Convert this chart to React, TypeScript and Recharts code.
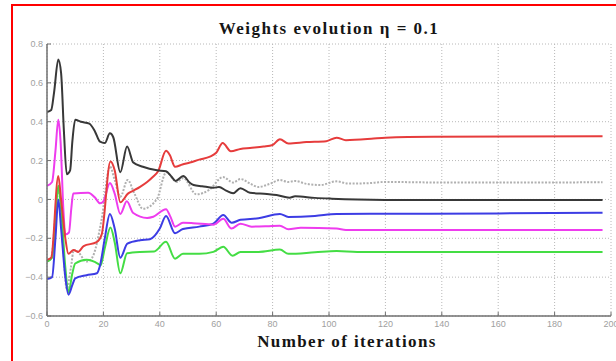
import React from "react";
import { LineChart, Line, XAxis, YAxis, CartesianGrid } from "recharts";

type Pt = [number, number];

const xTicks = [0, 20, 40, 60, 80, 100, 120, 140, 160, 180, 200];
const yTicks = [-0.6, -0.4, -0.2, 0, 0.2, 0.4, 0.6, 0.8];
const titleText = "Weights evolution \u03b7 = 0.1";
const xLabelText = "Number of iterations";

const blackSeries: Pt[] = [
  [0, 0.45], [1.5, 0.46], [2.5, 0.55], [4, 0.72], [5, 0.65], [6, 0.35], [7, 0.13], [8.2, 0.15],
  [9, 0.3], [10, 0.41], [12, 0.4], [15, 0.39], [17, 0.35], [18.8, 0.297], [20.5, 0.29], [22.3, 0.34],
  [23.5, 0.32], [26, 0.14], [28.4, 0.272], [30.6, 0.19], [34, 0.168], [39, 0.15], [42.2, 0.145],
  [44, 0.12], [45.6, 0.095], [48.3, 0.12], [50.7, 0.085], [52, 0.074], [55, 0.068], [59, 0.06],
  [61, 0.064], [63.5, 0.045], [66, 0.032], [68.6, 0.058], [72, 0.034], [78, 0.028], [81.4, 0.023],
  [86, 0.009], [88, 0.016], [95, 0.008], [101, 0.004], [110, 0.0], [130, -0.003], [197, -0.003],
];

const graySeries: Pt[] = [
  [0, -0.32], [1.5, -0.3], [4, 0.05], [5.5, -0.2], [7, -0.46], [8.5, -0.35], [9.5, -0.26], [11, -0.27],
  [14, -0.32], [16, -0.3], [19.4, -0.1], [22.3, 0.17], [24, 0.1], [26, 0.014], [28.6, 0.1], [31, 0.03],
  [34, -0.048], [38.9, 0.0], [42.3, 0.14], [46, 0.09], [48.3, 0.11], [53, 0.026], [57.6, 0.05],
  [62.4, 0.115], [66, 0.087], [68.6, 0.105], [72, 0.082], [75, 0.064], [79, 0.08], [82.6, 0.1],
  [85.5, 0.09], [88, 0.095], [92, 0.08], [97, 0.074], [102.5, 0.093], [107, 0.082], [113, 0.083],
  [120, 0.09], [140, 0.087], [197, 0.088],
];

const redSeries: Pt[] = [
  [0, -0.31], [1.5, -0.3], [4, 0.12], [5, 0.0], [6.5, -0.2], [7.6, -0.28], [9.4, -0.26], [11, -0.27],
  [13, -0.24], [17.6, -0.22], [19.4, -0.18], [22.5, 0.195], [24, 0.15], [26, -0.015], [28.7, 0.03],
  [30.6, 0.045], [33, 0.065], [35.5, 0.09], [37.6, 0.117], [39.4, 0.145], [42.2, 0.25], [43.5, 0.23],
  [45.4, 0.168], [48, 0.18], [50.7, 0.19], [54, 0.205], [57.8, 0.22], [60, 0.24], [62.3, 0.29],
  [65.2, 0.248], [68.6, 0.26], [72, 0.265], [76.8, 0.272], [80, 0.28], [82.6, 0.31], [85.6, 0.288],
  [92, 0.295], [99, 0.3], [102.7, 0.318], [106, 0.305], [115, 0.312], [120, 0.318], [137, 0.323],
  [197, 0.325],
];

const magentaSeries: Pt[] = [
  [0, 0.07], [1.8, 0.09], [3, 0.25], [4, 0.41], [4.8, 0.3], [5.8, -0.05], [6.5, -0.18], [7.8, -0.17],
  [8.6, -0.05], [9.3, 0.03], [14.6, 0.035], [17, 0.01], [18.8, -0.02], [20, -0.01], [22.3, 0.084],
  [24, 0.03], [26, -0.075], [28.3, -0.01], [30.6, -0.07], [35.5, -0.095], [37.7, -0.089], [42.2, -0.05],
  [43.8, -0.09], [45.4, -0.14], [48.2, -0.12], [51.8, -0.122], [59, -0.13], [62.5, -0.1], [65.4, -0.15],
  [68.6, -0.125], [72.6, -0.14], [78, -0.138], [82.6, -0.135], [85.6, -0.154], [90, -0.146],
  [102.7, -0.15], [106, -0.157], [197, -0.157],
];

const blueSeries: Pt[] = [
  [0, -0.41], [1.8, -0.4], [3, -0.2], [4, 0.0], [5, -0.15], [6.5, -0.4], [7.6, -0.49], [9, -0.44],
  [10, -0.406], [14, -0.39], [17.7, -0.38], [18.8, -0.34], [20.5, -0.2], [22.3, -0.075], [24, -0.15],
  [26, -0.3], [28.5, -0.228], [33, -0.21], [36.5, -0.205], [40, -0.15], [42.2, -0.085], [45.4, -0.174],
  [48.2, -0.152], [54, -0.14], [59, -0.125], [62.5, -0.08], [65.5, -0.12], [68.6, -0.105], [75, -0.097],
  [82.6, -0.075], [85.6, -0.09], [95, -0.085], [102.7, -0.075], [120, -0.074], [160, -0.072],
  [197, -0.068],
];

const greenSeries: Pt[] = [
  [0, -0.32], [1.8, -0.3], [3, -0.1], [4, 0.07], [5, -0.05], [6.5, -0.35], [7.6, -0.48], [9, -0.38],
  [10, -0.33], [14, -0.31], [18, -0.33], [19, -0.34], [20.5, -0.25], [22.5, -0.145], [24, -0.22],
  [26, -0.38], [28.4, -0.277], [33, -0.27], [38, -0.268], [42.2, -0.218], [45.4, -0.305], [48.2, -0.28],
  [54, -0.28], [59, -0.27], [62.5, -0.243], [65.8, -0.29], [68.6, -0.27], [75, -0.27], [82.6, -0.258],
  [85.6, -0.28], [95, -0.272], [102.7, -0.265], [110, -0.27], [197, -0.27],
];

const toData = (s: Pt[]) => s.map(([x, y]) => ({ x, y }));

const seriesList = [
  { name: "gray", data: graySeries, color: "#b0b0b0", dash: "2 1.5" },
  { name: "green", data: greenSeries, color: "#44dd44", dash: undefined },
  { name: "blue", data: blueSeries, color: "#3c3ce4", dash: undefined },
  { name: "magenta", data: magentaSeries, color: "#ee3cee", dash: undefined },
  { name: "red", data: redSeries, color: "#e63c3c", dash: undefined },
  { name: "black", data: blackSeries, color: "#383838", dash: undefined },
];

const fmtY = (v: number) => (v === 0 ? "0" : v.toFixed(1).replace("-", "\u2212"));

const tickStyle = { fontSize: 9, fill: "#a0a0a0", fontFamily: "'Liberation Sans', Arial, sans-serif" };
const frame = "#707070";
const labelFont = {
  fontFamily: "'Liberation Serif', 'Times New Roman', serif",
  fontWeight: "bold" as const,
  fontSize: 17,
  color: "#151515",
  textAlign: "center" as const,
  position: "absolute" as const,
};

export default function App() {
  return (
    <div style={{ position: "absolute", left: 0, top: 0, width: 616, height: 361, background: "#fff", overflow: "hidden" }}>
      <div style={{ position: "absolute", left: 11, top: 4, width: 620, height: 370, borderTop: "2px solid #ff0000", borderLeft: "2px solid #ff0000" }} />
      <div style={{ ...labelFont, left: 47, width: 564, top: 19, letterSpacing: 1.5 }}>
        {titleText}
      </div>
      <div style={{ ...labelFont, left: 83, width: 528, top: 332, letterSpacing: 1.4 }}>
        {xLabelText}
      </div>
      <div style={{ position: "absolute", left: 0, top: 0 }}>
        <LineChart width={616} height={361} margin={{ top: 44, right: 5, bottom: 15, left: 10 }}>
          <CartesianGrid xAxisId="b" yAxisId="l" stroke="#b8b8b8" strokeDasharray="1 2" />
          <XAxis xAxisId="t" orientation="top" type="number" domain={[0, 200]} ticks={xTicks} height={0}
            axisLine={{ stroke: frame, strokeWidth: 1.5 }} tickLine={{ stroke: frame }} tickSize={-4}
            tick={{ fill: "transparent", fontSize: 1 }} allowDataOverflow />
          <YAxis yAxisId="r" orientation="right" type="number" domain={[-0.6, 0.8]} ticks={yTicks} width={0}
            axisLine={{ stroke: frame, strokeWidth: 1.5 }} tickLine={{ stroke: frame }} tickSize={-4}
            tick={{ fill: "transparent", fontSize: 1 }} allowDataOverflow />
          <XAxis xAxisId="b" dataKey="x" type="number" domain={[0, 200]} ticks={xTicks} height={30}
            axisLine={{ stroke: frame, strokeWidth: 1.5 }} tickLine={{ stroke: frame }} tickSize={-4} tickMargin={9}
            tick={tickStyle} allowDataOverflow interval={0} />
          <YAxis yAxisId="l" type="number" domain={[-0.6, 0.8]} ticks={yTicks} width={37}
            axisLine={{ stroke: frame, strokeWidth: 1.5 }} tickLine={{ stroke: frame }} tickSize={-4} tickMargin={8}
            tick={tickStyle} tickFormatter={fmtY} allowDataOverflow interval={0} />
          {seriesList.map((s) => (
            <Line key={s.name} xAxisId="b" yAxisId="l" data={toData(s.data)} dataKey="y" type="monotone"
              stroke={s.color} strokeWidth={2} strokeDasharray={s.dash} dot={false} activeDot={false}
              isAnimationActive={false} />
          ))}
        </LineChart>
      </div>
    </div>
  );
}
